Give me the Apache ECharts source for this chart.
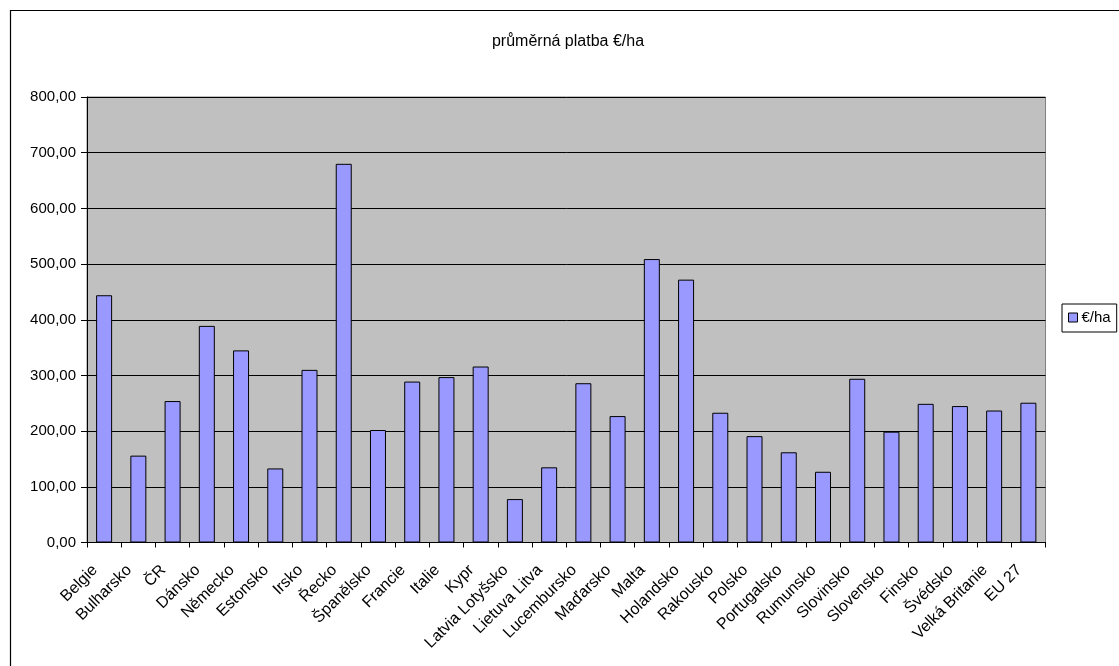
<!DOCTYPE html>
<html>
<head>
<meta charset="utf-8">
<script src="https://cdn.jsdelivr.net/npm/echarts@6/dist/echarts.min.js"></script>
<style>
html,body{margin:0;padding:0;background:#fff;}
#chart{width:1119px;height:666px;}
</style>
</head>
<body>
<div id="chart"></div>
<script>
const titleText = "průměrná platba €/ha";
const seriesName = "€/ha";
const categories = ["Belgie","Bulharsko","ČR","Dánsko","Německo","Estonsko","Irsko","Řecko","Španělsko","Francie","Italie","Kypr","Latvia Lotyšsko","Lietuva Litva","Lucembursko","Maďarsko","Malta","Holandsko","Rakousko","Polsko","Portugalsko","Rumunsko","Slovinsko","Slovensko","Finsko","Švédsko","Velká Britanie","EU 27"];
const values = [444, 156, 254, 389, 345, 133, 310, 680, 202, 289, 297, 316, 78, 135, 286, 227, 509, 472, 233, 191, 162, 127, 294, 199, 249, 245, 237, 251];
const yTicks = {min: 0, max: 800, interval: 100};

const font = "'Liberation Sans', Arial, sans-serif";
const chart = echarts.init(document.getElementById('chart'), null, {renderer: 'canvas'});
chart.setOption({
  animation: false,
  backgroundColor: '#ffffff',
  textStyle: {fontFamily: font, color: '#000'},
  title: {
    text: titleText,
    left: 563, top: 29, textAlign: 'center',
    textStyle: {fontFamily: font, fontSize: 16, fontWeight: 'normal', color: '#000'}
  },
  graphic: [{
    type: 'rect', left: 8, top: 8, z: -1, silent: true,
    shape: {width: 1200, height: 700},
    style: {fill: 'none', stroke: '#000', lineWidth: 1.2}
  }],
  legend: {
    left: 1062, top: 304,
    orient: 'vertical',
    padding: [6, 6, 7, 6],
    borderColor: '#000', borderWidth: 1,
    backgroundColor: '#fff',
    itemWidth: 9, itemHeight: 9, itemGap: 4,
    icon: 'rect',
    textStyle: {fontFamily: font, fontSize: 15, color: '#000', padding: [0, 0, 0, -1]},
    data: [{name: seriesName, itemStyle: {color: '#9999FF', borderColor: '#000', borderWidth: 1}}]
  },
  grid: {
    left: 87, top: 97, width: 958.5, height: 445.5,
    show: true, backgroundColor: '#C0C0C0', borderColor: '#808080', borderWidth: 1
  },
  xAxis: {
    type: 'category',
    data: categories,
    axisLine: {lineStyle: {color: '#000', width: 1}},
    axisTick: {show: true, length: 5, interval: 0, lineStyle: {color: '#000'}},
    axisLabel: {interval: 0, rotate: 45, fontSize: 16, fontFamily: font, color: '#000', margin: 16, padding: [0, 13, 0, 0]},
    splitLine: {show: false}
  },
  yAxis: {
    type: 'value',
    min: yTicks.min, max: yTicks.max, interval: yTicks.interval,
    axisLine: {show: true, lineStyle: {color: '#000', width: 1}},
    axisTick: {show: true, length: 6, lineStyle: {color: '#000'}},
    axisLabel: {
      fontSize: 15, fontFamily: font, color: '#000', margin: 11,
      formatter: v => v.toFixed(2).replace('.', ',')
    },
    splitLine: {show: true, lineStyle: {color: '#000', width: 1}}
  },
  series: [{
    name: seriesName,
    type: 'bar',
    data: values,
    barWidth: 16,
    itemStyle: {color: '#9999FF', borderColor: '#000', borderWidth: 1}
  }]
});
</script>
</body>
</html>
